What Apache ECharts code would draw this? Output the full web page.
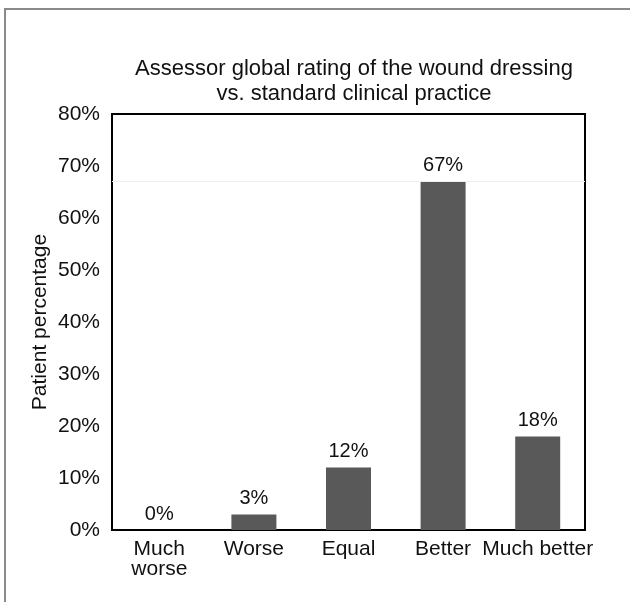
<!DOCTYPE html>
<html>
<head>
<meta charset="utf-8">
<script src="https://cdn.jsdelivr.net/npm/echarts@6/dist/echarts.min.js"></script>
<style>
  html, body { margin: 0; padding: 0; background: #fff; }
  #chart { width: 630px; height: 602px; }
</style>
</head>
<body>
<div id="chart"></div>
<script>
// Rating categories and share of patients (%)
const categories = ['Much\nworse', 'Worse', 'Equal', 'Better', 'Much better'];
const patientPct = [0, 3, 12, 67, 18];
const yTicks = [0, 10, 20, 30, 40, 50, 60, 70, 80];

const FONT = '"Liberation Sans", Arial, sans-serif';
const TEXT = '#111';

const chart = echarts.init(document.getElementById('chart'), null, { renderer: 'canvas' });

chart.setOption({
  backgroundColor: '#fff',
  animation: false,
  textStyle: { fontFamily: FONT },
  title: {
    text: 'Assessor global rating of the wound dressing\nvs. standard clinical practice',
    left: 349,
    top: 51,
    textAlign: 'center',
    textStyle: { fontFamily: FONT, fontSize: 22, fontWeight: 'normal', color: TEXT, lineHeight: 25 }
  },
  graphic: [{
    type: 'rect',
    shape: { x: 5, y: 9, width: 640, height: 610 },
    style: { fill: 'none', stroke: '#8a8a8a', lineWidth: 2 },
    silent: true,
    z: -1
  }],
  grid: {
    left: 112, top: 114, width: 473, height: 416,
    show: true, borderColor: '#000', borderWidth: 2, backgroundColor: 'transparent'
  },
  xAxis: {
    type: 'category',
    data: categories,
    axisLine: { lineStyle: { color: '#000', width: 2 } },
    axisTick: { show: false },
    axisLabel: { fontFamily: FONT, fontSize: 21, color: TEXT, lineHeight: 20, margin: 9, interval: 0 }
  },
  yAxis: {
    type: 'value',
    min: yTicks[0],
    max: yTicks[yTicks.length - 1],
    interval: yTicks[1] - yTicks[0],
    name: 'Patient percentage',
    nameLocation: 'middle',
    nameGap: 61,
    nameMoveOverlap: false,
    nameTextStyle: { fontFamily: FONT, fontSize: 21, color: TEXT },
    axisLine: { show: true, lineStyle: { color: '#000', width: 2 } },
    axisTick: { show: false },
    splitLine: { show: false },
    axisLabel: { fontFamily: FONT, fontSize: 21, color: TEXT, margin: 12, formatter: v => v + '%' }
  },
  series: [{
    type: 'bar',
    data: patientPct,
    barWidth: 45,
    itemStyle: { color: '#595959' },
    label: {
      show: true,
      position: 'top',
      distance: 6,
      fontFamily: FONT,
      fontSize: 20,
      color: TEXT,
      formatter: p => p.value + '%'
    },
    markLine: {
      silent: true,
      symbol: 'none',
      label: { show: false },
      lineStyle: { color: '#efefef', width: 1, type: 'solid' },
      data: [{ yAxis: patientPct[3] }]
    }
  }]
});
</script>
</body>
</html>
